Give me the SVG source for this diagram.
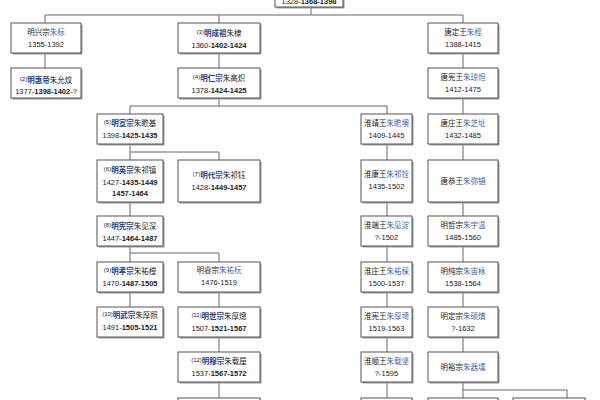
<svg xmlns="http://www.w3.org/2000/svg" width="600" height="400" viewBox="0 0 600 400">
<style>
.bg{fill:#fff}
.sh{fill:#9a9a9a}
.bx{fill:#fff;stroke:#555;stroke-width:1}
.ln{fill:none;stroke:#666;stroke-width:1}
.t{font-family:"Liberation Sans","Noto Sans CJK SC",sans-serif;font-size:7.5px;text-anchor:middle;fill:#222}
.emp{fill:#1f3d8c;font-weight:bold}
.nm{fill:#3a66b0}
.b{font-weight:bold}
.sup{font-size:6px}
</style>
<defs>
<g id="b70"><rect class="sh" x="1.5" y="1.5" width="70" height="30"/><rect class="bx" x="0" y="0" width="70" height="30"/></g>
<g id="b66"><rect class="sh" x="1.5" y="1.5" width="66" height="30"/><rect class="bx" x="0" y="0" width="66" height="30"/></g>
<g id="b82"><rect class="sh" x="1.5" y="1.5" width="82" height="30"/><rect class="bx" x="0" y="0" width="82" height="30"/></g>
<g id="b51"><rect class="sh" x="1.5" y="1.5" width="51" height="30"/><rect class="bx" x="0" y="0" width="51" height="30"/></g>
<g id="b66t"><rect class="sh" x="1.5" y="1.5" width="66" height="42"/><rect class="bx" x="0" y="0" width="66" height="42"/></g>
<g id="b82t"><rect class="sh" x="1.5" y="1.5" width="82" height="42"/><rect class="bx" x="0" y="0" width="82" height="42"/></g>
<g id="b51t"><rect class="sh" x="1.5" y="1.5" width="51" height="42"/><rect class="bx" x="0" y="0" width="51" height="42"/></g>
<g id="b70t"><rect class="sh" x="1.5" y="1.5" width="70" height="42"/><rect class="bx" x="0" y="0" width="70" height="42"/></g>
</defs>
<rect class="bg" x="0" y="0" width="600" height="400"/>
<g id="connectors">
<path class="ln" d="M311,7V15M45,15H463M45,15V23M219,15V23M463,15V23"/>
<path class="ln" d="M45,53V68M219,53V68M463,53V68"/>
<path class="ln" d="M219,98V106M130,106H387M130,106V114M387,106V114M463,98V114"/>
<path class="ln" d="M130,144V160M130,152H219V160M387,144V160M463,144V160"/>
<path class="ln" d="M130,202V216M387,202V216M463,202V216"/>
<path class="ln" d="M130,247V262M130,253H219V262M387,246V262M463,246V262"/>
<path class="ln" d="M130,292V307M219,292V307M387,292V307M463,292V307"/>
<path class="ln" d="M219,337V352M387,337V352M463,337V352"/>
<path class="ln" d="M219,382V398M387,382V398M463,382V398M463,390H567V398"/>
</g>
<g id="n0" transform="translate(275,-25)"><rect class="sh" x="1.5" y="1.5" width="68" height="32"/><rect class="bx" width="68" height="32"/><text class="t" x="34" y="28.5">1328-<tspan class="b">1368-1398</tspan></text></g>
<g id="nA1" transform="translate(11,23)"><use href="#b70"/><text class="t" x="35" y="12">明兴宗<tspan class="nm">朱标</tspan></text><text class="t" x="35" y="24">1355-1392</text></g>
<g id="nA2" transform="translate(11,68)"><use href="#b70"/><text class="t" x="35" y="15"><tspan class="sup" dy="-2.5">(2)</tspan><tspan class="emp" dy="2.5">明惠帝</tspan>朱允炆</text><text class="t" x="35" y="26">1377-<tspan class="b">1398-1402</tspan>-?</text></g>
<g id="nC1" transform="translate(178,23)"><use href="#b82"/><text class="t" x="41" y="13"><tspan class="sup" dy="-2.5">(3)</tspan><tspan class="emp" dy="2.5">明成祖</tspan>朱棣</text><text class="t" x="41" y="25">1360-<tspan class="b">1402-1424</tspan></text></g>
<g id="nC2" transform="translate(178,68)"><use href="#b82"/><text class="t" x="41" y="13"><tspan class="sup" dy="-2.5">(4)</tspan><tspan class="emp" dy="2.5">明仁宗</tspan>朱高炽</text><text class="t" x="41" y="25">1378-<tspan class="b">1424-1425</tspan></text></g>
<g id="nE1" transform="translate(428,23)"><use href="#b70"/><text class="t" x="35" y="12">唐定王<tspan class="nm">朱桱</tspan></text><text class="t" x="35" y="24">1388-1415</text></g>
<g id="nE2" transform="translate(428,68)"><use href="#b70"/><text class="t" x="35" y="12">唐宪王<tspan class="nm">朱琼炟</tspan></text><text class="t" x="35" y="24">1412-1475</text></g>
<g id="nB1" transform="translate(97,114)"><use href="#b66"/><text class="t" x="33" y="12"><tspan class="sup" dy="-2.5">(5)</tspan><tspan class="emp" dy="2.5">明宣宗</tspan>朱瞻基</text><text class="t" x="33" y="24">1398-<tspan class="b">1425-1435</tspan></text></g>
<g id="nD1" transform="translate(361,114)"><use href="#b51"/><text class="t" x="25.5" y="12">淮靖王<tspan class="nm">朱瞻墺</tspan></text><text class="t" x="25.5" y="24">1409-1445</text></g>
<g id="nE3" transform="translate(428,114)"><use href="#b70"/><text class="t" x="35" y="12">唐庄王<tspan class="nm">朱芝址</tspan></text><text class="t" x="35" y="24">1432-1485</text></g>
<g id="nB2" transform="translate(97,160)"><use href="#b66t"/><text class="t" x="33" y="13"><tspan class="sup" dy="-2.5">(6)</tspan><tspan class="emp" dy="2.5">明英宗</tspan>朱祁镇</text><text class="t" x="33" y="24.5">1427-<tspan class="b">1435-1449</tspan></text><text class="t b" x="33" y="35.5">1457-1464</text></g>
<g id="nC3" transform="translate(178,160)"><use href="#b82t"/><text class="t" x="41" y="18"><tspan class="sup" dy="-2.5">(7)</tspan><tspan class="emp" dy="2.5">明代宗</tspan>朱祁钰</text><text class="t" x="41" y="30">1428-<tspan class="b">1449-1457</tspan></text></g>
<g id="nD2" transform="translate(361,160)"><use href="#b51t"/><text class="t" x="25.5" y="17">淮康王<tspan class="nm">朱祁铨</tspan></text><text class="t" x="25.5" y="29">1435-1502</text></g>
<g id="nE4" transform="translate(428,160)"><use href="#b70t"/><text class="t" x="35" y="23.5">唐恭王<tspan class="nm">朱弥锠</tspan></text></g>
<g id="nB3" transform="translate(97,216)"><use href="#b66"/><text class="t" x="33" y="13"><tspan class="sup" dy="-2.5">(8)</tspan><tspan class="emp" dy="2.5">明宪宗</tspan>朱见深</text><text class="t" x="33" y="25">1447-<tspan class="b">1464-1487</tspan></text></g>
<g id="nD3" transform="translate(361,216)"><use href="#b51"/><text class="t" x="25.5" y="12">淮端王<tspan class="nm">朱见淀</tspan></text><text class="t" x="25.5" y="24">?-1502</text></g>
<g id="nE5" transform="translate(428,216)"><use href="#b70"/><text class="t" x="35" y="12">明哲宗<tspan class="nm">朱宇温</tspan></text><text class="t" x="35" y="24">1485-1560</text></g>
<g id="nB4" transform="translate(97,262)"><use href="#b66"/><text class="t" x="33" y="12"><tspan class="sup" dy="-2.5">(9)</tspan><tspan class="emp" dy="2.5">明孝宗</tspan>朱祐樘</text><text class="t" x="33" y="24">1470-<tspan class="b">1487-1505</tspan></text></g>
<g id="nC4" transform="translate(178,262)"><use href="#b82"/><text class="t" x="41" y="11">明睿宗<tspan class="nm">朱祐杬</tspan></text><text class="t" x="41" y="23">1476-1519</text></g>
<g id="nD4" transform="translate(361,262)"><use href="#b51"/><text class="t" x="25.5" y="12">淮庄王<tspan class="nm">朱祐棌</tspan></text><text class="t" x="25.5" y="24">1500-1537</text></g>
<g id="nE6" transform="translate(428,262)"><use href="#b70"/><text class="t" x="35" y="12">明纯宗<tspan class="nm">朱宙栐</tspan></text><text class="t" x="35" y="24">1538-1564</text></g>
<g id="nB5" transform="translate(97,307)"><use href="#b66"/><text class="t" x="33" y="11"><tspan class="sup" dy="-2.5">(10)</tspan><tspan class="emp" dy="2.5">明武宗</tspan>朱厚照</text><text class="t" x="33" y="23">1491-<tspan class="b">1505-1521</tspan></text></g>
<g id="nC5" transform="translate(178,307)"><use href="#b82"/><text class="t" x="41" y="12"><tspan class="sup" dy="-2.5">(11)</tspan><tspan class="emp" dy="2.5">明世宗</tspan>朱厚熜</text><text class="t" x="41" y="24">1507-<tspan class="b">1521-1567</tspan></text></g>
<g id="nD5" transform="translate(361,307)"><use href="#b51"/><text class="t" x="25.5" y="12">淮宪王<tspan class="nm">朱厚埼</tspan></text><text class="t" x="25.5" y="24">1519-1563</text></g>
<g id="nE7" transform="translate(428,307)"><use href="#b70"/><text class="t" x="35" y="12">明定宗<tspan class="nm">朱硕熿</tspan></text><text class="t" x="35" y="24">?-1632</text></g>
<g id="nC6" transform="translate(178,352)"><use href="#b82"/><text class="t" x="41" y="12"><tspan class="sup" dy="-2.5">(12)</tspan><tspan class="emp" dy="2.5">明穆宗</tspan>朱载垕</text><text class="t" x="41" y="24">1537-<tspan class="b">1567-1572</tspan></text></g>
<g id="nD6" transform="translate(361,352)"><use href="#b51"/><text class="t" x="25.5" y="12">淮顺王<tspan class="nm">朱载坚</tspan></text><text class="t" x="25.5" y="24">?-1595</text></g>
<g id="nE8" transform="translate(428,352)"><use href="#b70"/><text class="t" x="35" y="18">明裕宗<tspan class="nm">朱器壎</tspan></text></g>
<g id="nC7" transform="translate(178,398)"><use href="#b82"/></g>
<g id="nD7" transform="translate(361,398)"><use href="#b51"/></g>
<g id="nE9" transform="translate(428,398)"><use href="#b70"/></g>
<g id="nF9" transform="translate(513,398)"><rect class="sh" x="1.5" y="1.5" width="72" height="30"/><rect class="bx" width="72" height="30"/></g>
</svg>
